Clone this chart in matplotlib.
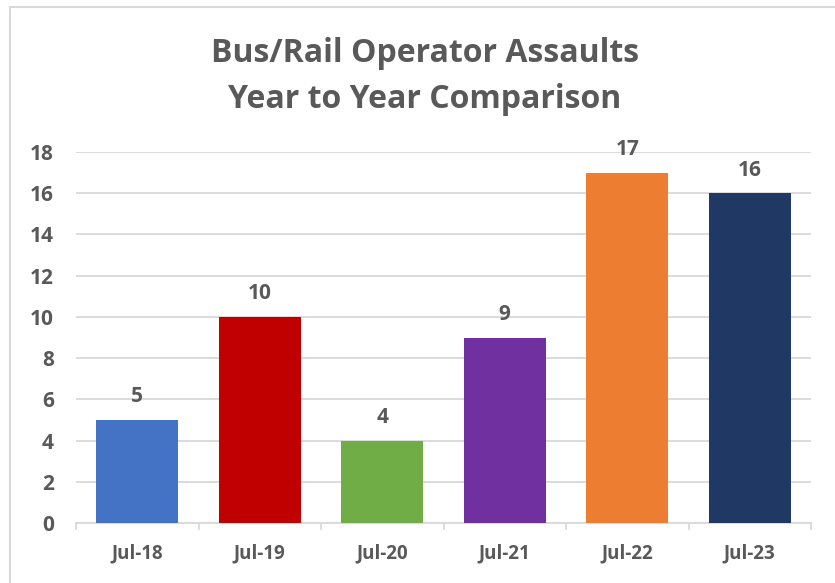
import matplotlib
matplotlib.use("Agg")
import matplotlib.pyplot as plt
from matplotlib.lines import Line2D

categories = ["Jul-18", "Jul-19", "Jul-20", "Jul-21", "Jul-22", "Jul-23"]
assaults = [5, 10, 4, 9, 17, 16]
bar_colors = ["#4472C4", "#C00000", "#70AD47", "#7030A0", "#ED7D31", "#203864"]
yticks = [0, 2, 4, 6, 8, 10, 12, 14, 16, 18]

text_color = "#595959"
grid_color = "#D9D9D9"
plt.rcParams["font.family"] = ["Open Sans", "DejaVu Sans"]

fig = plt.figure(figsize=(8.35, 5.83), dpi=100)
ax = fig.add_axes([76 / 835, 60 / 583, 735 / 835, 371 / 583])

x = range(len(categories))
bars = ax.bar(x, assaults, width=0.67, color=bar_colors, zorder=3)
for b, v in zip(bars, assaults):
    ax.annotate(str(v), (b.get_x() + b.get_width() / 2, v), xytext=(0, 9),
                textcoords="offset points", ha="center", va="bottom",
                fontsize=15, fontweight="bold", color=text_color)

ax.set_xlim(-0.5, len(categories) - 0.5)
ax.set_ylim(0, 18)
ax.set_yticks(yticks)
ax.set_xticks(list(x))
ax.set_xticklabels(categories)
ax.grid(axis="y", color=grid_color, linewidth=1.3, zorder=0)
for s in ["top", "right", "left"]:
    ax.spines[s].set_visible(False)
ax.spines["bottom"].set_color(grid_color)
ax.spines["bottom"].set_linewidth(1.3)
ax.tick_params(axis="y", length=0, pad=16, labelsize=15, labelcolor=text_color)
ax.tick_params(axis="x", length=0, pad=15, labelsize=13.5, labelcolor=text_color)
for lab in ax.get_xticklabels() + ax.get_yticklabels():
    lab.set_fontweight("bold")

# category boundary tick marks below the axis
for i in range(len(categories) + 1):
    ax.plot([i - 0.5, i - 0.5], [0, -0.3], color=grid_color, linewidth=1.3,
            clip_on=False, zorder=2)

fig.text(425 / 835, 1 - 53 / 583, "Bus/Rail Operator Assaults", ha="center", va="center",
         fontsize=23, fontweight="bold", color=text_color)
fig.text(425 / 835, 1 - 99 / 583, "Year to Year Comparison", ha="center", va="center",
         fontsize=23, fontweight="bold", color=text_color)

# chart border (top and left edges visible)
fig.add_artist(Line2D([10 / 835, 10 / 835], [0, 1 - 7 / 583], transform=fig.transFigure,
                      color=grid_color, linewidth=1.5))
fig.add_artist(Line2D([10 / 835, 1], [1 - 7 / 583, 1 - 7 / 583], transform=fig.transFigure,
                      color=grid_color, linewidth=1.5))

fig.savefig("out.png", dpi=100)
